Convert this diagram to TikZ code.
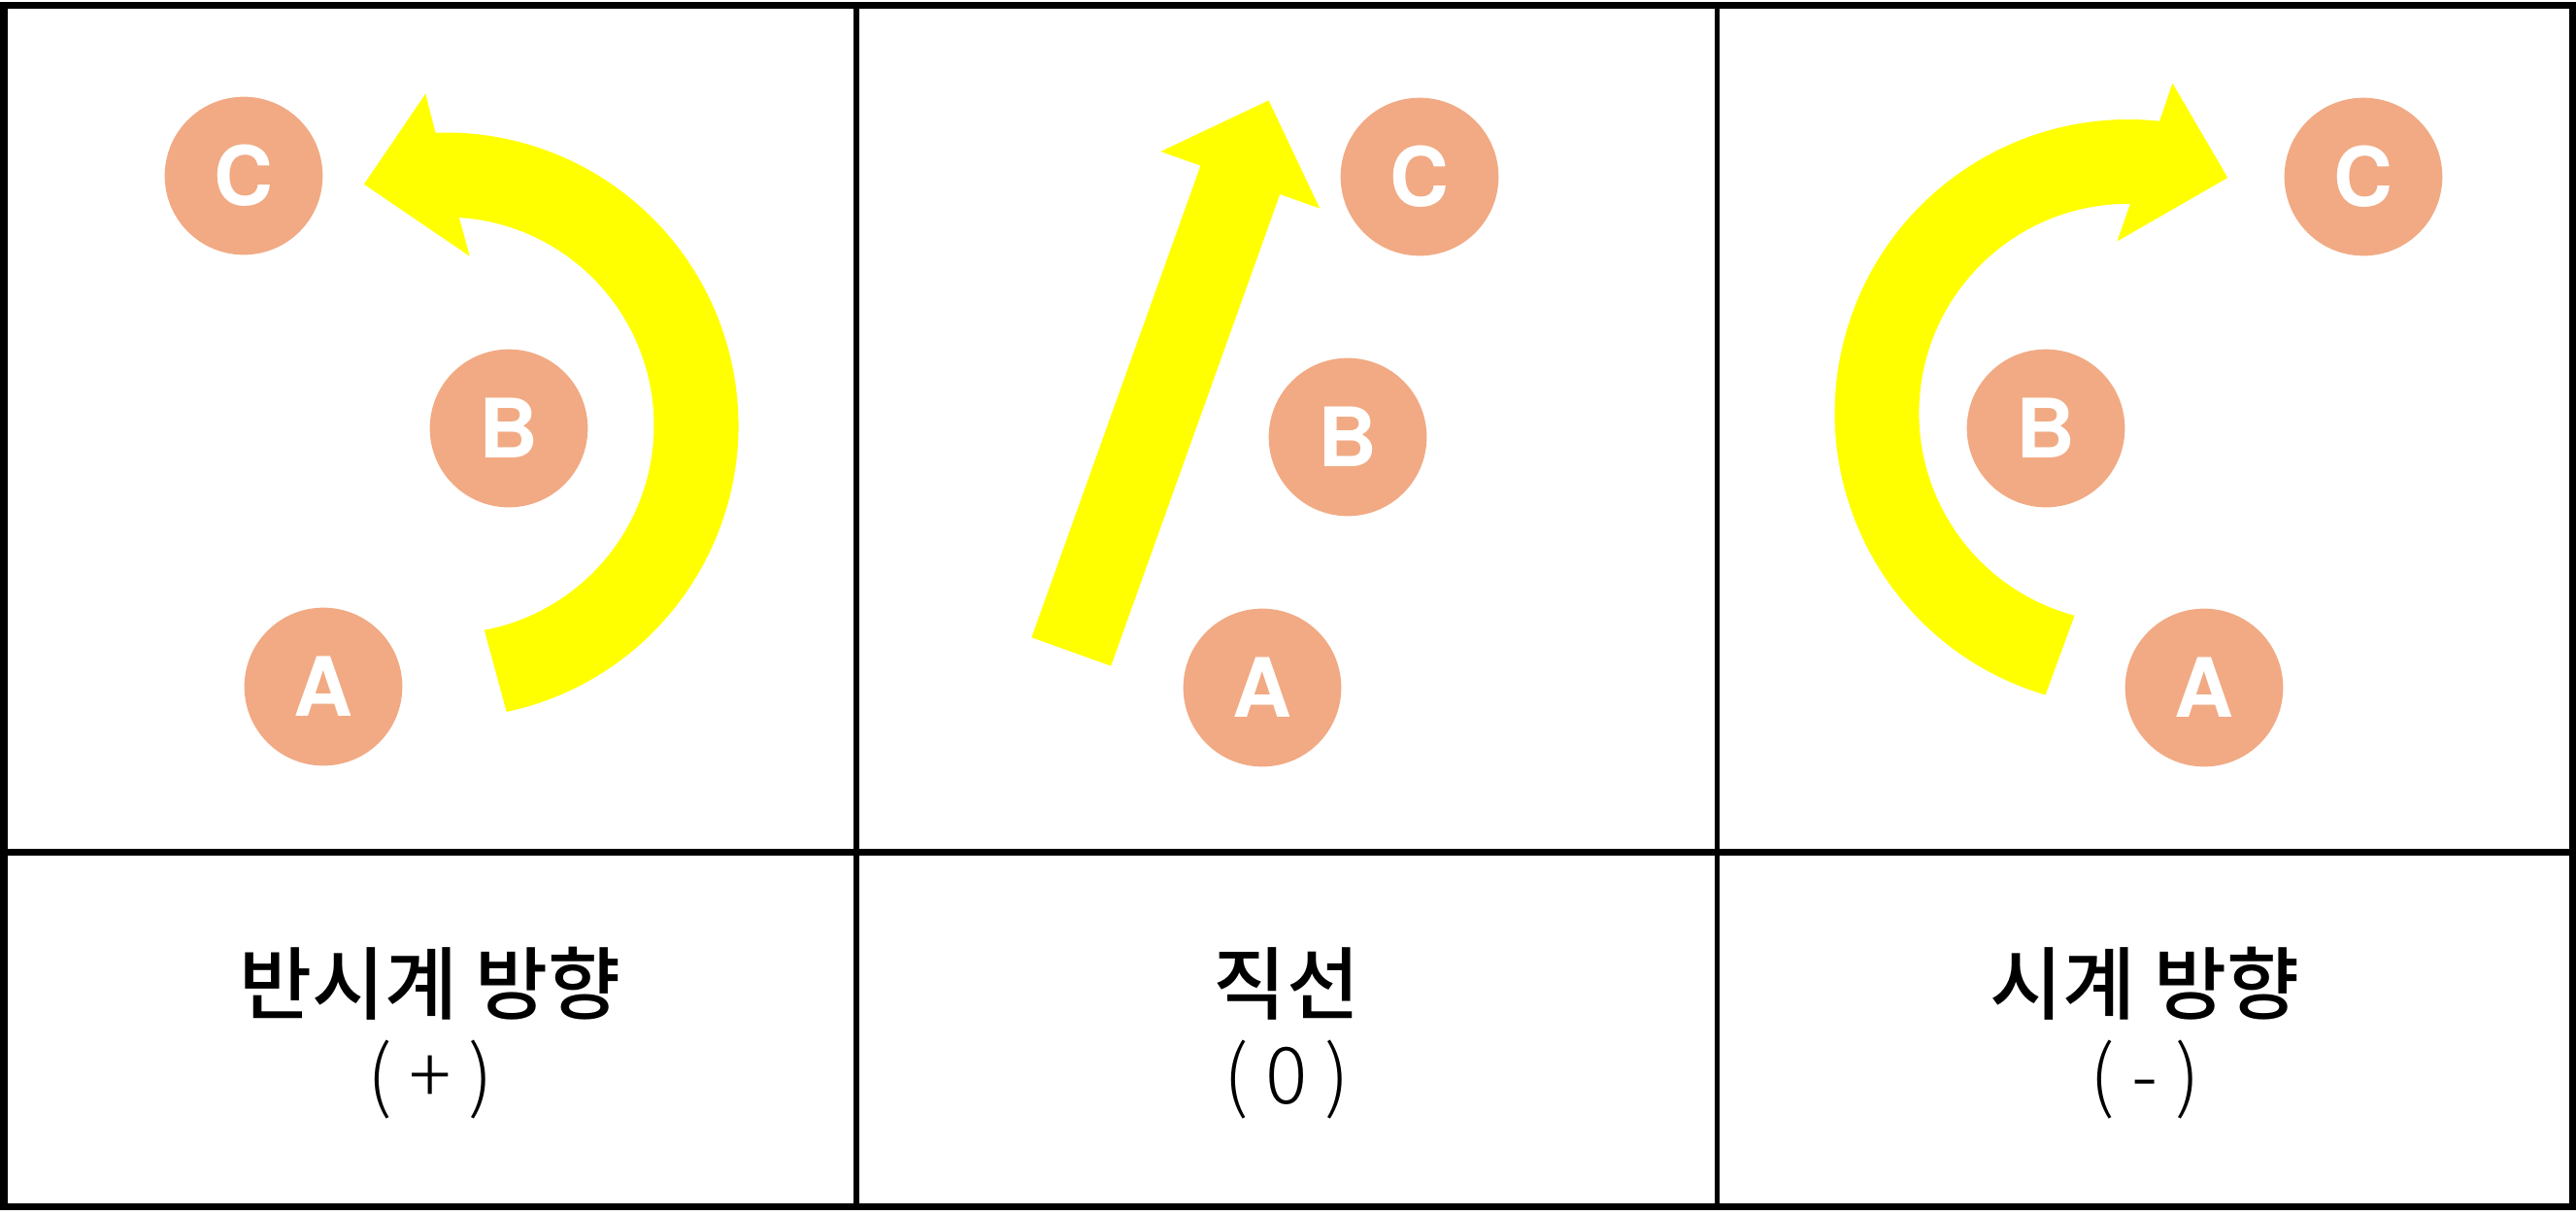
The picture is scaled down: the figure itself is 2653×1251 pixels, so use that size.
\documentclass[tikz,border=0pt]{standalone}
\usepackage{fontspec}
\usepackage{tikz}
\usetikzlibrary{positioning,calc}
\newfontfamily\kofont{Noto Sans CJK KR Medium}
\newfontfamily\kolight{Noto Sans CJK KR Light}
\newfontfamily\atomfont{TeX Gyre Heros}
\definecolor{atomPeach}{HTML}{F1AA84}
\definecolor{arrowYellow}{HTML}{FFFF00}
\tikzset{
    atom/.style={circle,fill=atomPeach,inner sep=0pt,minimum size=1.626cm,
        text=white,font=\atomfont\bfseries\fontsize{24pt}{24pt}\selectfont},
    band/.style={fill=arrowYellow},
    gridline/.style={draw=black,line width=0.07cm},
    thingrid/.style={draw=black,line width=0.058cm},
    titletext/.style={anchor=base,inner sep=0pt,
        font=\kofont\fontsize{23.2pt}{27pt}\selectfont},
    signtext/.style={anchor=base,inner sep=0pt,
        font=\kolight\fontsize{23pt}{27pt}\selectfont}
}

\begin{document}
\begin{tikzpicture}[x=0.01cm,y=-0.01cm]
    \useasboundingbox (0,0) rectangle (2653,1251);
    % frame
    \draw[gridline] (4,5) rectangle (2649,1242.5);
    \draw[gridline] (4,877) -- (2649,877);
    \draw[thingrid] (882,5) -- (882,1242.5);
    \draw[thingrid] (1768.5,5) -- (1768.5,1242.5);

    % counterclockwise
    \coordinate (ccw) at (459,438);
    \fill[band] ($(ccw)+(78:301.5)$) arc[start angle=78,end angle=-92,radius=301.5]
        -- (438.3,96.5) -- (374.9,189.7) -- (483.8,263.8)
        -- ($(ccw)+(-86.3:214.5)$) arc[start angle=-86.3,end angle=79.3,radius=214.5]
        -- cycle;
    \node[atom] (c1) at (251,181) {C};
    \node[atom] (b1) at (524,441) {B};
    \node[atom] (a1) at (333,707) {A};

    % straight
    \fill[band] (1062.4,656.3) -- (1236.4,170.6) -- (1195.4,156.0) -- (1306.6,103.4)
        -- (1359.2,214.6) -- (1318.2,200.0) -- (1144.2,685.7) -- cycle;
    \node[atom] (c2) at (1462,182) {C};
    \node[atom] (b2) at (1388,450) {B};
    \node[atom] (a2) at (1300,708) {A};

    % clockwise
    \coordinate (cw) at (2192,425.4);
    \fill[band] ($(cw)+(106.4:302.4)$) arc[start angle=106.4,end angle=276.1,radius=302.4]
        -- (2237.4,85.6) -- (2294.3,183) -- (2180.5,248.4)
        -- ($(cw)+(270.5:215.6)$) arc[start angle=270.5,end angle=104.9,radius=215.6]
        -- cycle;
    \node[atom] (c3) at (2434,182) {C};
    \node[atom] (b3) at (2107,441) {B};
    \node[atom] (a3) at (2270,708) {A};

    % labels
    \node[titletext] (ccwtitle) at (443,1043) {반시계 방향};
    \node[signtext] (ccwsign) at (443,1136) {( + )};
    \node[titletext] (linetitle) at (1325,1043) {직선};
    \node[signtext] (linesign) at (1325,1136) {( 0 )};
    \node[titletext] (cwtitle) at (2209,1043) {시계 방향};
    \node[signtext] (cwsign) at (2209,1136) {( - )};
\end{tikzpicture}
\end{document}
